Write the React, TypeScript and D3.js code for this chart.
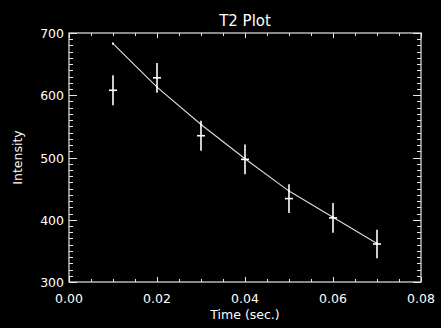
import React from "react";
import * as d3 from "d3";

// Measured signal intensity at each echo time, with its uncertainty
const times = [0.01, 0.02, 0.03, 0.04, 0.05, 0.06, 0.07];
const intensity = [608, 628, 535, 497, 434, 403, 361];
const errors = [24, 24, 24, 24, 23, 24, 23];
// Fitted T2 decay evaluated at the same times
const fitValues = [683, 613, 553, 498, 446, 404, 362];

const xTicks = [0, 0.02, 0.04, 0.06, 0.08];
const yTicks = [300, 400, 500, 600, 700];

const W = 441;
const H = 328;
const M = { left: 69, right: 20, top: 33, bottom: 46 };

export default function App() {
  const x = d3.scaleLinear().domain([0, 0.08]).range([M.left, W - M.right]);
  const y = d3.scaleLinear().domain([300, 700]).range([H - M.bottom, M.top]);
  const [x0, x1] = x.range();
  const [y0, y1] = y.range();

  const xMinor = d3.range(0, 0.08 + 1e-9, 0.005);
  const yMinor = d3.range(300, 700 + 1e-9, 10);
  const isXMajor = (v: number) => xTicks.some((t) => Math.abs(t - v) < 1e-9);
  const isYMajor = (v: number) => yTicks.some((t) => Math.abs(t - v) < 1e-9);

  const line = d3
    .line<number>()
    .x((_, i) => x(times[i]))
    .y((d) => y(d));

  const axisColor = "#e6e6e6";
  const font = "'DejaVu Sans', sans-serif";
  const armX = 4;

  return (
    <div style={{ position: "fixed", left: 0, top: 0, width: W, height: H, background: "#000" }}>
      <svg width={W} height={H} style={{ display: "block" }}>
        <rect width={W} height={H} fill="#000" />
        <text x={(x0 + x1) / 2} y={26} fill="#fff" fontSize={15} fontFamily={font} textAnchor="middle">
          T2 Plot
        </text>

        {/* frame */}
        <rect x={x0} y={y1} width={x1 - x0} height={y0 - y1} fill="none" stroke={axisColor} strokeWidth={1.2} />

        {/* x ticks, bottom and top */}
        {xMinor.map((v, i) => {
          const len = isXMajor(v) ? 5 : 3;
          const px = Math.round(x(v)) + 0.5;
          return (
            <g key={"xt" + i} stroke={axisColor} strokeWidth={1}>
              <line x1={px} x2={px} y1={y0} y2={y0 - len} />
              <line x1={px} x2={px} y1={y1} y2={y1 + len} />
            </g>
          );
        })}
        {/* y ticks, left and right */}
        {yMinor.map((v, i) => {
          const len = isYMajor(v) ? 8 : 4;
          const py = Math.round(y(v)) + 0.5;
          return (
            <g key={"yt" + i} stroke={axisColor} strokeWidth={1}>
              <line x1={x0} x2={x0 + len} y1={py} y2={py} />
              <line x1={x1} x2={x1 - len} y1={py} y2={py} />
            </g>
          );
        })}

        {xTicks.map((v) => (
          <text key={"xl" + v} x={x(v)} y={y0 + 21} fill="#fff" fontSize={12.5} fontFamily={font} textAnchor="middle">
            {v.toFixed(2)}
          </text>
        ))}
        {yTicks.map((v) => (
          <text key={"yl" + v} x={x0 - 5} y={y(v) + 5} fill="#fff" fontSize={12.5} fontFamily={font} textAnchor="end">
            {v}
          </text>
        ))}

        <text x={(x0 + x1) / 2} y={319} fill="#fff" fontSize={12.5} fontFamily={font} textAnchor="middle">
          Time (sec.)
        </text>
        <text
          transform={`translate(22,${(y0 + y1) / 2}) rotate(-90)`}
          fill="#fff"
          fontSize={12.5}
          fontFamily={font}
          textAnchor="middle"
        >
          Intensity
        </text>

        {/* fitted curve */}
        <path d={line(fitValues) ?? ""} fill="none" stroke="#d8d8d8" strokeWidth={1.2} />
        {fitValues.map((v, i) => (
          <rect key={"fp" + i} x={x(times[i]) - 1} y={y(v) - 1} width={2} height={2} fill="#fff" />
        ))}

        {/* measured points with error bars */}
        {intensity.map((v, i) => {
          const cx = x(times[i]);
          return (
            <g key={"pt" + i} stroke="#fff" strokeWidth={1.6}>
              <line x1={cx} x2={cx} y1={y(v - errors[i])} y2={y(v + errors[i])} />
              <line x1={cx - armX} x2={cx + armX} y1={y(v)} y2={y(v)} />
            </g>
          );
        })}
      </svg>
    </div>
  );
}
